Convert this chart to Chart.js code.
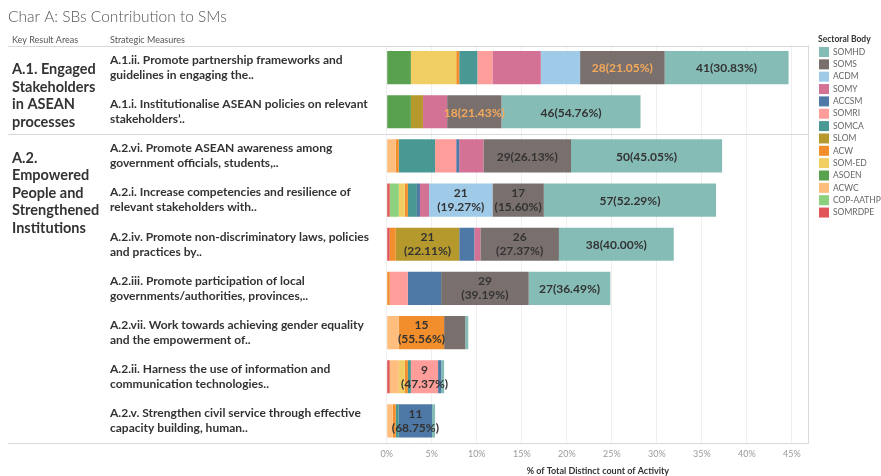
<!DOCTYPE html>
<html lang="en">
<head>
<meta charset="UTF-8">
<title>Char A: SBs Contribution to SMs</title>
<script src="https://cdn.jsdelivr.net/npm/chart.js"></script>
<style>
    body { margin: 0; background: #ffffff; }
    #wrap { width: 881px; height: 476px; position: relative; }
</style>
</head>
<body>
<div id="wrap"><canvas id="chart" width="881" height="476"></canvas></div>
<script>
// strategic measures (rows, top to bottom)
const measures = [
    ['A.1.ii. Promote partnership frameworks and', 'guidelines in engaging the..'],
    ['A.1.i. Institutionalise ASEAN policies on relevant', 'stakeholders\u2019..'],
    ['A.2.vi. Promote ASEAN awareness among', 'government officials, students,..'],
    ['A.2.i. Increase competencies and resilience of', 'relevant stakeholders with..'],
    ['A.2.iv. Promote non-discriminatory laws, policies', 'and practices by..'],
    ['A.2.iii. Promote participation of local', 'governments/authorities, provinces,..'],
    ['A.2.vii. Work towards achieving gender equality', 'and the empowerment of..'],
    ['A.2.ii. Harness the use of information and', 'communication technologies..'],
    ['A.2.v. Strengthen civil service through effective', 'capacity building, human..']
];

// key result areas and the row where each one starts
const resultAreas = [
    ['A.1. Engaged', 'Stakeholders', 'in ASEAN', 'processes'],
    ['A.2.', 'Empowered', 'People and', 'Strengthened', 'Institutions']
];
const resultAreaStart = [0, 2];

// distinct count of activities per sectoral body (stacking order, left to right)
const SOMRDPE  = [0, 0, 0, 1, 1, 0, 0, 1, 0];
const COPAATHP = [0, 0, 0, 3, 0, 0, 0, 0, 0];
const ACWC     = [0, 0, 3, 0, 0, 0, 4, 3, 2];
const ASOEN    = [8, 8, 0, 0, 0, 0, 0, 0, 0];
const SOMED    = [15, 0, 0, 2, 0, 0, 0, 2, 0];
const ACW      = [1, 0, 1, 1, 2, 1, 15, 1, 1];
const SLOM     = [0, 4, 0, 0, 21, 0, 0, 0, 0];
const SOMCA    = [6, 0, 12, 3, 0, 0, 0, 1, 1];
const SOMRI    = [5, 0, 7, 0, 0, 6, 0, 9, 0];
const ACCSM    = [0, 0, 1, 1, 5, 11, 0, 1, 11];
const SOMY     = [16, 8, 8, 3, 2, 0, 0, 0, 0];
const ACDM     = [13, 0, 0, 21, 0, 0, 0, 0, 0];
const SOMS     = [28, 18, 29, 17, 26, 29, 7, 0, 0];
const SOMHD    = [41, 46, 50, 57, 38, 27, 1, 1, 1];

// total distinct count of activity (denominator of the x axis)
const totalActivities = 298;

const xTicks = [0, 5, 10, 15, 20, 25, 30, 35, 40, 45];

const bodies = [
    { name: 'SOMRDPE',   data: SOMRDPE,  color: '#E15759' },
    { name: 'COP-AATHP', data: COPAATHP, color: '#8CD17D' },
    { name: 'ACWC',      data: ACWC,     color: '#FFBE7D' },
    { name: 'ASOEN',     data: ASOEN,    color: '#59A14F' },
    { name: 'SOM-ED',    data: SOMED,    color: '#F1CE63' },
    { name: 'ACW',       data: ACW,      color: '#F28E2B' },
    { name: 'SLOM',      data: SLOM,     color: '#B6992D' },
    { name: 'SOMCA',     data: SOMCA,    color: '#499894' },
    { name: 'SOMRI',     data: SOMRI,    color: '#FF9D9A' },
    { name: 'ACCSM',     data: ACCSM,    color: '#4E79A7' },
    { name: 'SOMY',      data: SOMY,     color: '#D37295' },
    { name: 'ACDM',      data: ACDM,     color: '#A0CBE8' },
    { name: 'SOMS',      data: SOMS,     color: '#79706E' },
    { name: 'SOMHD',     data: SOMHD,    color: '#86BCB6' }
];

// labels shown highlighted, and labels broken over two lines (row, body)
const accentLabels = ['0:SOMS', '1:SOMS'];
const twoLineLabels = ['3:ACDM', '3:SOMS', '4:SLOM', '4:SOMS', '5:SOMS', '6:ACW', '7:SOMRI', '8:ACCSM'];

const rowTotals = measures.map((m, i) => bodies.reduce((s, b) => s + b.data[i], 0));

const FONT = 'Lato, "Open Sans", sans-serif';

// text around the plot: title, column headers, result areas, legend, labels
const decorations = {
    id: 'decorations',
    afterDatasetsDraw(chart) {
        const ctx = chart.ctx;
        const area = chart.chartArea;
        const y = chart.scales.y;

        // segment labels
        ctx.save();
        ctx.textAlign = 'center';
        ctx.textBaseline = 'middle';
        ctx.font = 'bold 12px ' + FONT;
        bodies.forEach((b, d) => {
            const meta = chart.getDatasetMeta(d);
            meta.data.forEach((bar, i) => {
                const n = b.data[i];
                const pct = n / rowTotals[i] * 100;
                if (n < 9 || pct < 15) return;
                const key = i + ':' + b.name;
                const pctText = '(' + pct.toFixed(2) + '%)';
                const cx = (bar.x + bar.base) / 2;
                ctx.fillStyle = accentLabels.includes(key) ? '#F5A95B' : '#333333';
                if (twoLineLabels.includes(key)) {
                    ctx.fillText(String(n), cx, bar.y - 7);
                    ctx.fillText(pctText, cx, bar.y + 7);
                } else {
                    ctx.fillText(n + pctText, cx, bar.y + 1);
                }
            });
        });
        ctx.restore();

        ctx.save();
        // separators
        ctx.strokeStyle = '#d9d9d9';
        ctx.lineWidth = 1;
        const half = (y.getPixelForValue(1) - y.getPixelForValue(0)) / 2;
        const sep = [area.top, y.getPixelForValue(resultAreaStart[1]) - half, area.bottom];
        sep.forEach(py => {
            ctx.beginPath();
            ctx.moveTo(8, Math.round(py) + 0.5);
            ctx.lineTo(area.right, Math.round(py) + 0.5);
            ctx.stroke();
        });
        ctx.beginPath();
        ctx.moveTo(Math.round(area.right) - 0.5, area.top);
        ctx.lineTo(Math.round(area.right) - 0.5, area.bottom);
        ctx.stroke();

        // title and headers
        ctx.textAlign = 'left';
        ctx.textBaseline = 'middle';
        ctx.fillStyle = '#555555';
        ctx.font = '300 15.5px ' + FONT;
        ctx.fillText('Char A: SBs Contribution to SMs', 8, 17);
        ctx.font = '9px ' + FONT;
        ctx.fillText('Key Result Areas', 12, 40);
        ctx.fillText('Strategic Measures', 110, 40);

        // key result areas
        ctx.fillStyle = '#333333';
        ctx.font = 'bold 14.5px ' + FONT;
        resultAreas.forEach((lines, g) => {
            const top = y.getPixelForValue(resultAreaStart[g]) + 2;
            lines.forEach((t, k) => ctx.fillText(t, 12, top + k * 17.6));
        });

        // legend
        ctx.fillStyle = '#333333';
        ctx.font = 'bold 8.5px ' + FONT;
        ctx.fillText('Sectoral Body', 818, 39);
        ctx.font = '8.5px ' + FONT;
        bodies.slice().reverse().forEach((b, k) => {
            const ly = 52 + k * 12.35;
            ctx.fillStyle = b.color;
            ctx.fillRect(819, ly - 5, 10, 10);
            ctx.fillStyle = '#666666';
            ctx.fillText(b.name, 833, ly);
        });
        ctx.restore();
    }
};

new Chart(document.getElementById('chart'), {
    type: 'bar',
    data: {
        labels: measures,
        datasets: bodies.map(b => ({
            label: b.name,
            data: b.data.map(n => n / totalActivities * 100),
            backgroundColor: b.color,
            borderWidth: 0,
            categoryPercentage: 0.75,
            barPercentage: 1
        }))
    },
    options: {
        indexAxis: 'y',
        responsive: false,
        animation: false,
        layout: { padding: { left: 110, top: 45.5, right: 72, bottom: 0 } },
        plugins: {
            legend: { display: false },
            tooltip: { enabled: false }
        },
        scales: {
            x: {
                stacked: true,
                min: 0,
                max: 46.9,
                afterBuildTicks: scale => {
                    scale.ticks = xTicks.map(v => ({ value: v }));
                },
                afterFit: scale => { scale.height = 33; },
                grid: { color: '#efefef', drawTicks: false },
                border: { display: false },
                ticks: {
                    color: '#9a9a9a',
                    font: { family: FONT, size: 9 },
                    padding: 6,
                    callback: v => v + '%'
                },
                title: {
                    display: true,
                    text: '% of Total Distinct count of Activity',
                    color: '#333333',
                    font: { family: FONT, size: 9, weight: 'bold' },
                    padding: { top: 0, bottom: 0 }
                }
            },
            y: {
                stacked: true,
                afterFit: scale => { scale.width = 276.7; },
                grid: { display: false },
                border: { display: false },
                ticks: {
                    autoSkip: false,
                    crossAlign: 'far',
                    padding: 0,
                    color: '#333333',
                    font: { family: FONT, size: 12, weight: 'bold', lineHeight: 15 / 12 }
                }
            }
        }
    },
    plugins: [decorations]
});
</script>
</body>
</html>
